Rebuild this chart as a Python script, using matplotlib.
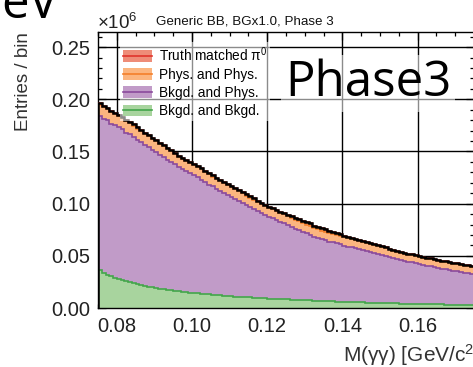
import numpy as np
import matplotlib
matplotlib.use("Agg")
import matplotlib.pyplot as plt
from matplotlib.patches import Patch
from matplotlib.lines import Line2D
from matplotlib.ticker import MultipleLocator

plt.rcParams["font.family"] = ["Liberation Sans", "DejaVu Sans"]
plt.rcParams["mathtext.fontset"] = "custom"
plt.rcParams["mathtext.rm"] = "Liberation Sans"
plt.rcParams["mathtext.default"] = "rm"

# binning of M(gamma gamma) [GeV/c^2]
x_lo, x_hi, nbins = 0.075, 0.175, 100

# stacked histogram, entries / bin in units of 1e6
total = [
    0.196, 0.194, 0.192, 0.189, 0.187, 0.185, 0.183, 0.180, 0.178, 0.176,
    0.173, 0.171, 0.168, 0.166, 0.163, 0.161, 0.158, 0.156, 0.153, 0.151,
    0.149, 0.146, 0.144, 0.142, 0.140, 0.138, 0.136, 0.134, 0.131, 0.129,
    0.127, 0.125, 0.123, 0.121, 0.119, 0.117, 0.115, 0.113, 0.111, 0.109,
    0.107, 0.105, 0.103, 0.101, 0.099, 0.097, 0.096, 0.094, 0.092, 0.091,
    0.089, 0.088, 0.086, 0.085, 0.083, 0.082, 0.081, 0.079, 0.078, 0.077,
    0.076, 0.074, 0.073, 0.072, 0.071, 0.069, 0.068, 0.067, 0.066, 0.065,
    0.064, 0.063, 0.062, 0.061, 0.060, 0.059, 0.058, 0.057, 0.056, 0.055,
    0.054, 0.053, 0.052, 0.052, 0.051, 0.050, 0.049, 0.048, 0.048, 0.047,
    0.046, 0.045, 0.045, 0.044, 0.043, 0.043, 0.042, 0.041, 0.041, 0.040,
]
bkgd_bkgd = [
    0.036, 0.034, 0.032, 0.031, 0.029, 0.028, 0.027, 0.026, 0.025, 0.024,
    0.023, 0.022, 0.0215, 0.0205, 0.020, 0.019, 0.0185, 0.018, 0.0175, 0.017,
    0.0165, 0.016, 0.0156, 0.0151, 0.0148, 0.0143, 0.014, 0.0136, 0.0133, 0.013,
    0.0127, 0.0124, 0.0121, 0.0118, 0.0116, 0.0113, 0.011, 0.0108, 0.0105, 0.0103,
    0.0101, 0.0098, 0.0096, 0.0094, 0.0092, 0.009, 0.0089, 0.0087, 0.0085, 0.0083,
    0.0082, 0.008, 0.0078, 0.0077, 0.0075, 0.0074, 0.0072, 0.0071, 0.0069, 0.0068,
    0.0066, 0.0065, 0.0063, 0.0062, 0.006, 0.0059, 0.0058, 0.0056, 0.0055, 0.0054,
    0.0053, 0.0052, 0.0051, 0.005, 0.0049, 0.0048, 0.0047, 0.0046, 0.0045, 0.0044,
    0.0043, 0.0042, 0.0041, 0.004, 0.0039, 0.0038, 0.0038, 0.0037, 0.0036, 0.0035,
    0.0035, 0.0034, 0.0033, 0.0032, 0.0032, 0.0031, 0.003, 0.003, 0.0029, 0.0028,
]
phys_phys = [
    0.0110, 0.0112, 0.0109, 0.0110, 0.0108, 0.0109, 0.0107, 0.0108, 0.0106, 0.0107,
    0.0105, 0.0106, 0.0104, 0.0105, 0.0103, 0.0104, 0.0102, 0.0103, 0.0101, 0.0102,
    0.0100, 0.0101, 0.0099, 0.0100, 0.0098, 0.0099, 0.0097, 0.0098, 0.0096, 0.0097,
    0.0095, 0.0096, 0.0094, 0.0095, 0.0093, 0.0094, 0.0092, 0.0093, 0.0091, 0.0092,
    0.0090, 0.0091, 0.0089, 0.0090, 0.0088, 0.0089, 0.0087, 0.0088, 0.0086, 0.0087,
    0.0086, 0.0085, 0.0086, 0.0084, 0.0085, 0.0083, 0.0084, 0.0082, 0.0083, 0.0082,
    0.0081, 0.0082, 0.0080, 0.0081, 0.0079, 0.0080, 0.0079, 0.0078, 0.0079, 0.0077,
    0.0078, 0.0077, 0.0076, 0.0077, 0.0075, 0.0076, 0.0075, 0.0074, 0.0075, 0.0073,
    0.0074, 0.0073, 0.0072, 0.0073, 0.0071, 0.0072, 0.0071, 0.0070, 0.0071, 0.0069,
    0.0070, 0.0069, 0.0068, 0.0069, 0.0067, 0.0068, 0.0067, 0.0066, 0.0067, 0.0066,
]
truth = [
    0.0011, 0.0012, 0.0011, 0.0012, 0.0011, 0.0011, 0.0012, 0.0011, 0.0011, 0.0012,
    0.0011, 0.0011, 0.0010, 0.0011, 0.0011, 0.0010, 0.0011, 0.0010, 0.0011, 0.0010,
    0.0010, 0.0011, 0.0010, 0.0010, 0.0011, 0.0010, 0.0010, 0.0011, 0.0010, 0.0010,
    0.0010, 0.0011, 0.0010, 0.0010, 0.0011, 0.0010, 0.0011, 0.0011, 0.0012, 0.0012,
    0.0012, 0.0011, 0.0012, 0.0012, 0.0012, 0.0012, 0.0013, 0.0012, 0.0013, 0.0013,
    0.0013, 0.0014, 0.0016, 0.0018, 0.0020, 0.0022, 0.0024, 0.0026, 0.0027, 0.0028,
    0.0027, 0.0025, 0.0022, 0.0019, 0.0016, 0.0014, 0.0012, 0.0011, 0.0010, 0.0010,
    0.0009, 0.0009, 0.0010, 0.0009, 0.0009, 0.0009, 0.0009, 0.0008, 0.0009, 0.0009,
    0.0009, 0.0008, 0.0009, 0.0008, 0.0008, 0.0009, 0.0008, 0.0008, 0.0008, 0.0008,
    0.0008, 0.0008, 0.0007, 0.0008, 0.0008, 0.0007, 0.0008, 0.0007, 0.0007, 0.0007,
]
bkgd_phys = (np.array(total) - np.array(bkgd_bkgd) - np.array(phys_phys)
             - np.array(truth))

labels = ["Truth matched $\\pi^0$", "Phys. and Phys.", "Bkgd. and Phys.",
          "Bkgd. and Bkgd."]
fills = ["#ee8c78", "#fbb57f", "#c19bc8", "#a8d49e"]
edges_c = ["#e0342c", "#f47f2a", "#8a4a9c", "#43a64a"]

edges = np.linspace(x_lo, x_hi, nbins + 1)

fig = plt.figure(figsize=(4.73, 3.67), dpi=100)
W, H = 473.0, 367.0
ax = fig.add_axes([98 / W, 1 - 308 / H, 376 / W, 276 / H])

# stack from bottom: bkgd-bkgd, bkgd-phys, phys-phys, truth
stack = [np.array(bkgd_bkgd), bkgd_phys, np.array(phys_phys), np.array(truth)]
order = [3, 2, 1, 0]  # index into fills/labels for each stack layer
base = np.zeros(nbins)
for vals, k in zip(stack, order):
    top = base + vals
    ax.stairs(top, edges, baseline=base, fill=True, color=fills[k], lw=0,
              zorder=2)
    ax.stairs(top, edges, baseline=None, color=edges_c[k], lw=1.2, zorder=3)
    base = top
ax.stairs(base, edges, baseline=0, color="black", lw=1.8, zorder=4)

ax.set_xlim(x_lo, x_hi)
ax.set_ylim(0, 0.2645)
ax.xaxis.set_major_locator(MultipleLocator(0.02))
ax.xaxis.set_minor_locator(MultipleLocator(0.005))
ax.yaxis.set_major_locator(MultipleLocator(0.05))
ax.yaxis.set_minor_locator(MultipleLocator(0.01))
ax.xaxis.set_major_formatter(matplotlib.ticker.FormatStrFormatter("%.2f"))
ax.yaxis.set_major_formatter(matplotlib.ticker.FormatStrFormatter("%.2f"))
ax.tick_params(which="both", direction="in", top=True, right=True,
               width=0.9, color="black")
ax.tick_params(which="major", length=5.8)
ax.tick_params(which="minor", length=3.0)
ax.tick_params(axis="both", labelsize=14.5, labelcolor="#222222")
ax.tick_params(axis="y", pad=5.5)
ax.tick_params(axis="x", pad=6.5)
for sp in ax.spines.values():
    sp.set_linewidth(1.0)
ax.grid(True, which="major", color="black", lw=1.0)
ax.set_axisbelow(True)

handles = [(Patch(facecolor=f, edgecolor="none"), Line2D([], [], color=e, lw=1.2))
           for f, e in zip(fills, edges_c)]
leg = ax.legend(handles, labels, loc="upper left",
                bbox_to_anchor=(113 / W, 1 - 35 / H),
                bbox_transform=fig.transFigure, fontsize=9.8, frameon=True,
                framealpha=0.55, facecolor="white", edgecolor="none",
                fancybox=False, borderpad=0.25, handlelength=2.1,
                handleheight=0.95, labelspacing=0.3, handletextpad=0.5)
leg.set_zorder(5)

fig.text(285 / W, 1 - 96 / H, "Phase3", fontsize=35.5, family="Open Sans",
         va="baseline", ha="left",
         bbox=dict(facecolor="white", alpha=0.55, edgecolor="none", pad=3))
fig.text(58 / W, 1 - 18 / H, "eV", fontsize=35.5, family="Open Sans",
         va="baseline", ha="right")

fig.text(245 / W, 1 - 25 / H, "Generic BB, BGx1.0, Phase 3", fontsize=9.6,
         ha="center", va="baseline", color="#111111")
fig.text(97 / W, 1 - 29 / H, "×10$^{6}$", fontsize=13.5, ha="left",
         va="baseline", color="#222222")
fig.text(23 / W, 1 - 32 / H, "Entries / bin", fontsize=13.5, rotation=90,
         ha="center", va="top", color="#333333")
fig.text(343 / W, 1 - 362 / H, "M(γγ) [GeV/c$^{2}$]", fontsize=15,
         ha="left", va="baseline", color="#333333")

fig.savefig("out.png", dpi=100)
